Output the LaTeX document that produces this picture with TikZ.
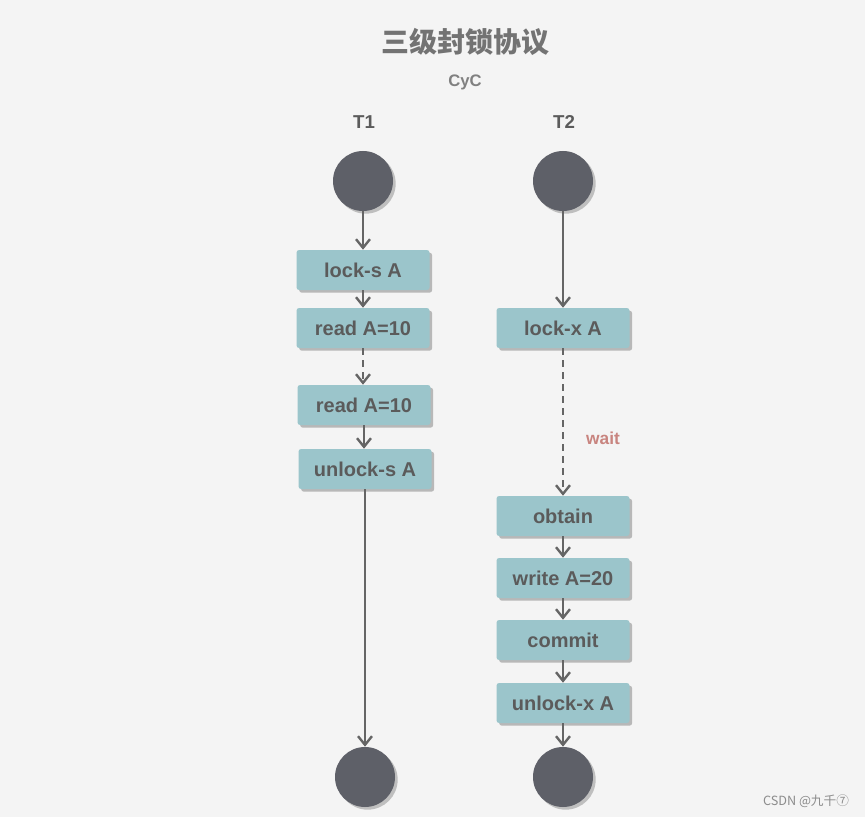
\documentclass[tikz,border=0pt]{standalone}
\usepackage{fontspec}
\setmainfont{Liberation Sans}
\newfontfamily\cjk{Noto Sans CJK SC}
\usetikzlibrary{arrows.meta,shadows}
\definecolor{bgc}{HTML}{F4F4F4}
\definecolor{boxc}{HTML}{9BC5CB}
\definecolor{txtc}{HTML}{5B5B5B}
\definecolor{dotc}{HTML}{5E6068}
\definecolor{linec}{HTML}{656565}
\definecolor{waitc}{HTML}{C8847F}
\tikzset{
  op/.style={
    rectangle,
    rounded corners=2pt,
    fill=boxc,
    text=txtc,
    font=\bfseries\fontsize{15}{18}\selectfont,
    minimum width=99.75pt,
    minimum height=30pt,
    inner sep=0pt,
    drop shadow={shadow xshift=2pt,shadow yshift=-2pt,fill=black!28,opacity=1}
  },
  dot/.style={
    circle,
    fill=dotc,
    minimum size=45pt,
    inner sep=0pt,
    drop shadow={shadow xshift=2pt,shadow yshift=-2pt,fill=black!25,opacity=1}
  },
  flow/.style={
    draw=linec,
    line width=1.8pt,
    -{Straight Barb[length=6.5pt,width=10.5pt]}
  },
  lane/.style={
    text=txtc,
    font=\bfseries\fontsize{14}{16}\selectfont
  },
}
\begin{document}
\begin{tikzpicture}[x=0.75pt,y=-0.75pt]
    \fill[bgc] (0,0) rectangle (865,817);
    \useasboundingbox (0,0) rectangle (865,817);
    \node[text=black!55,font=\cjk\bfseries\fontsize{21}{24}\selectfont] (title) at (465,42) {三级封锁协议};
    \node[text=black!50,font=\bfseries\fontsize{12.5}{14}\selectfont] (cyc) at (465,82) {CyC};
    \node[lane] (t1) at (364,122) {T1};
    \node[lane] (t2) at (564,122) {T2};
    % T1
    \node[dot] (s1) at (363,181) {};
    \node[op] (a1) at (363,270) {lock-s A};
    \node[op] (a2) at (363,328) {read A=10};
    \node[op] (a3) at (364,405) {read A=10};
    \node[op] (a4) at (365,469) {unlock-s A};
    \node[dot] (e1) at (365,777) {};
    % T2
    \node[dot] (s2) at (563,181) {};
    \node[op] (b1) at (563,328) {lock-x A};
    \node[op] (b2) at (563,516) {obtain};
    \node[op] (b3) at (563,578) {write A=20};
    \node[op] (b4) at (563,640) {commit};
    \node[op] (b5) at (563,703) {unlock-x A};
    \node[dot] (e2) at (563,777) {};
    \node[text=waitc,font=\bfseries\fontsize{13}{15}\selectfont] (wait) at (603,438) {wait};
    \foreach \a/\b in {s1/a1,a1/a2,a3/a4,a4/e1,s2/b1,b2/b3,b3/b4,b4/b5,b5/e2}{
      \draw[flow] (\a.south) -- (\a.south |- \b.north);
    }
    \foreach \a/\b in {a2/a3,b1/b2}{
      \draw[flow,dash pattern=on 5pt off 4pt] (\a.south) -- (\a.south |- \b.north);
    }
    \node[text=black!45,font=\cjk\fontsize{9.5}{11}\selectfont] (csdn) at (806,801) {CSDN @九千⑦};
\end{tikzpicture}
\end{document}
